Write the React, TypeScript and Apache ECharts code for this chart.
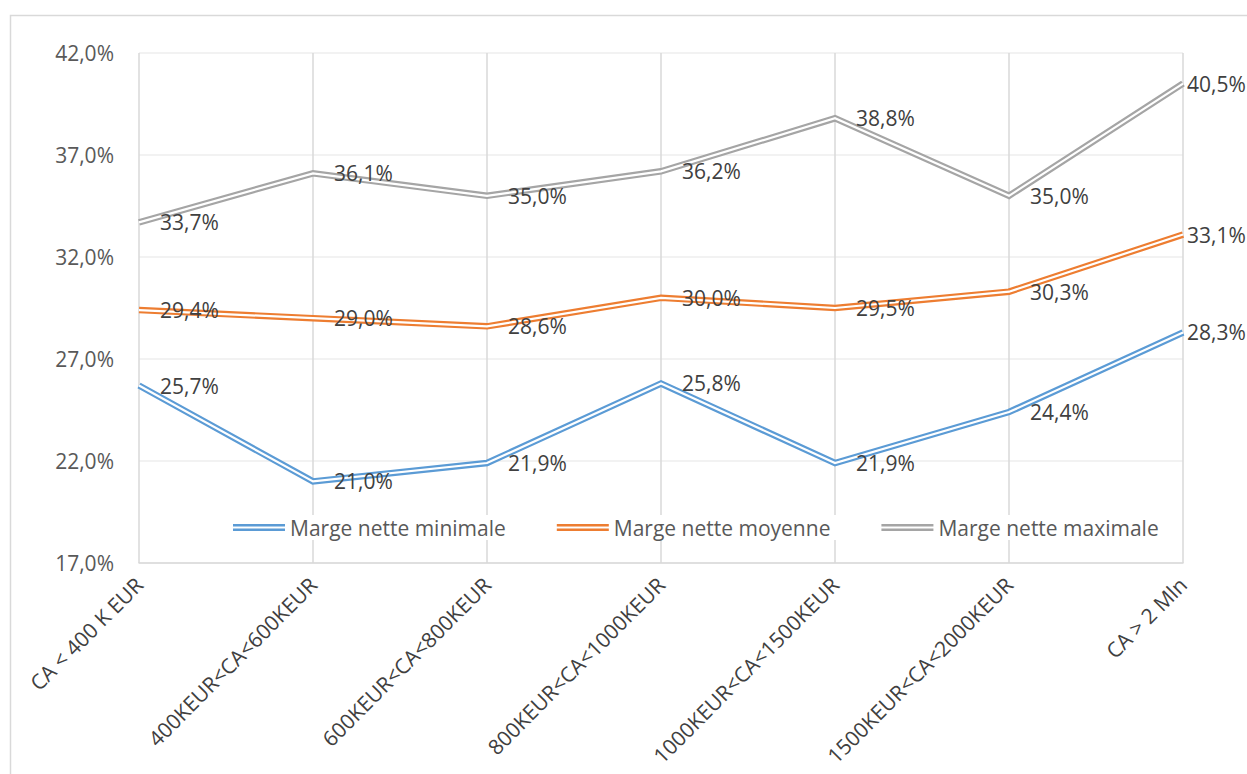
import React, { useEffect, useRef } from "react";
import * as echarts from "echarts";

const categories = [
  "CA < 400 K EUR",
  "400KEUR<CA<600KEUR",
  "600KEUR<CA<800KEUR",
  "800KEUR<CA<1000KEUR",
  "1000KEUR<CA<1500KEUR",
  "1500KEUR<CA<2000KEUR",
  "CA > 2 Mln",
];
const margeMin = [25.7, 21.0, 21.9, 25.8, 21.9, 24.4, 28.3];
const margeMoy = [29.4, 29.0, 28.6, 30.0, 29.5, 30.3, 33.1];
const margeMax = [33.7, 36.1, 35.0, 36.2, 38.8, 35.0, 40.5];
const seriesNames = ["Marge nette minimale", "Marge nette moyenne", "Marge nette maximale"];
const seriesColors = ["#5b9bd5", "#ed7d31", "#a5a5a5"];

const FONT = "'Open Sans', 'Noto Sans', sans-serif";
const fmt = (v: number) => v.toFixed(1).replace(".", ",") + "%";

export default function App() {
  const ref = useRef<HTMLDivElement>(null);
  useEffect(() => {
    document.body.style.margin = "0";
    const chart = echarts.init(ref.current!, null, { renderer: "svg" });
    const datas = [margeMin, margeMoy, margeMax];
    const series: any[] = [];
    datas.forEach((d, i) => {
      series.push({
        name: seriesNames[i],
        type: "line",
        data: d,
        symbol: "none",
        z: 2 + i * 2,
        lineStyle: { color: seriesColors[i], width: 6.5, join: "miter" },
        itemStyle: { color: seriesColors[i] },
      });
      series.push({
        name: seriesNames[i] + "_inner",
        type: "line",
        data: d.map((v, j) =>
          j === d.length - 1 ? { value: v, label: { distance: 4 } } : v
        ),
        symbol: "circle",
        symbolSize: 0,
        showSymbol: true,
        z: 3 + i * 2,
        silent: true,
        lineStyle: { color: "#ffffff", width: 2.2, join: "miter" },
        itemStyle: { color: "#ffffff" },
        label: {
          show: true,
          position: "right",
          distance: 21,
          color: "#404040",
          fontSize: 21,
          fontFamily: FONT,
          formatter: (p: any) => fmt(p.value),
        },
        labelLayout: { hideOverlap: false },
      });
    });
    chart.setOption({
      animation: false,
      backgroundColor: "#ffffff",
      textStyle: { fontFamily: FONT },
      graphic: [
        {
          type: "rect",
          shape: { x: 10.5, y: 15.5, width: 1260, height: 800 },
          style: { fill: "none", stroke: "#d9d9d9", lineWidth: 1.5 },
          silent: true,
          z: -10,
        },
      ],
      grid: { left: 139, right: 64, top: 53, bottom: 211, containLabel: false },
      legend: {
        data: seriesNames,
        left: 231,
        top: 515,
        itemWidth: 52,
        itemHeight: 7,
        itemGap: 51,
        icon: "path://M0,0H52V2.5H0Z M0,4.5H52V7H0Z",
        textStyle: { color: "#595959", fontSize: 21, fontFamily: FONT },
        backgroundColor: "#ffffff",
        padding: [2, 2],
      },
      xAxis: {
        type: "category",
        data: categories,
        boundaryGap: false,
        axisLine: { lineStyle: { color: "#d9d9d9", width: 1.5 } },
        axisTick: { show: false },
        splitLine: { show: true, lineStyle: { color: "#d9d9d9", width: 1.5 } },
        axisLabel: {
          rotate: 45,
          margin: 18,
          color: "#404040",
          fontSize: 21,
          fontFamily: FONT,
          interval: 0,
        },
      },
      yAxis: {
        type: "value",
        min: 17,
        max: 42,
        interval: 5,
        axisLine: { show: false },
        axisTick: { show: false },
        splitLine: { lineStyle: { color: "#eeeeee", width: 1.5 } },
        axisLabel: {
          margin: 25,
          color: "#595959",
          fontSize: 21,
          fontFamily: FONT,
          formatter: (v: number) => fmt(v),
        },
      },
      series,
    });
    return () => chart.dispose();
  }, []);
  return <div ref={ref} style={{ width: 1247, height: 774 }} />;
}
